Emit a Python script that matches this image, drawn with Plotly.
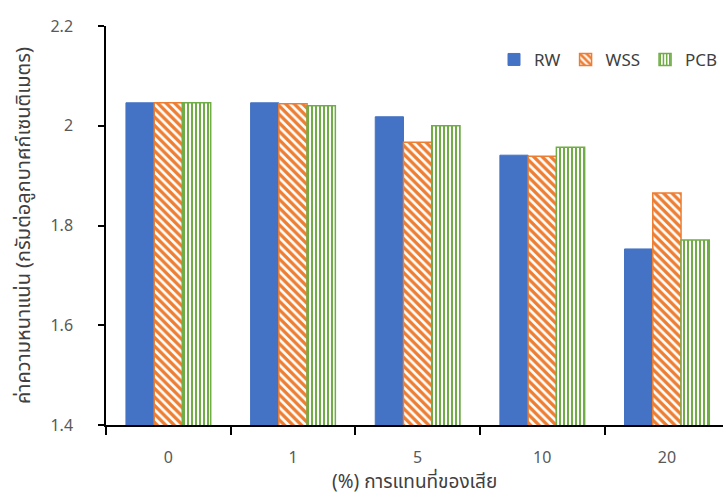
import plotly.graph_objects as go

# Replacement levels (%) and density values (g/cm^3)
categories = ["0", "1", "5", "10", "20"]
rw = [2.046, 2.046, 2.018, 1.941, 1.753]
wss = [2.046, 2.044, 1.967, 1.939, 1.865]
pcb = [2.046, 2.040, 2.000, 1.957, 1.771]

BLUE = "#4472C4"
ORANGE = "#ED7D31"
GREEN = "#70AD47"
FONT = "Tahoma, 'Noto Sans Thai', 'Leelawadee UI', 'Noto Sans', sans-serif"

fig = go.Figure()
fig.add_trace(go.Bar(
    name="RW", x=categories, y=rw,
    marker=dict(color=BLUE, line=dict(color=BLUE, width=1)),
))
fig.add_trace(go.Bar(
    name="WSS", x=categories, y=wss,
    marker=dict(color="white", line=dict(color=ORANGE, width=1.5),
                pattern=dict(shape="\\", fgcolor=ORANGE, bgcolor="white", fgopacity=1,
                             size=6, solidity=0.55, fillmode="overlay")),
))
fig.add_trace(go.Bar(
    name="PCB", x=categories, y=pcb,
    marker=dict(color="white", line=dict(color=GREEN, width=1.5),
                pattern=dict(shape="|", fgcolor=GREEN, bgcolor="white", fgopacity=1,
                             size=4, solidity=0.5, fillmode="overlay")),
))

# x-axis title placed as a centred annotation below the tick labels
fig.add_annotation(
    text="(%) การแทนที่ของเสีย", xref="paper", yref="paper",
    x=0.5, y=-0.143, xanchor="center", yanchor="middle", showarrow=False,
    font=dict(family=FONT, size=19, color="#404040"),
)

fig.update_layout(
    width=723, height=496,
    margin=dict(l=106, r=0, t=26, b=71),
    paper_bgcolor="white", plot_bgcolor="white",
    barmode="group", bargap=0.32, bargroupgap=0,
    font=dict(family=FONT, size=16, color="#595959"),
    showlegend=True,
    legend=dict(orientation="h", x=1.0, xanchor="right", y=0.915, yanchor="middle",
                font=dict(size=17, color="#404040"), bgcolor="rgba(0,0,0,0)",
                itemwidth=30, tracegroupgap=0),
    xaxis=dict(
        type="category", range=[-0.5, 4.45],
        showline=True, linecolor="black", linewidth=1.5,
        ticks="outside", tickson="boundaries", ticklen=8, tickcolor="black", tickwidth=1.5,
        ticklabelstandoff=17,
        tickfont=dict(size=16, color="#595959"),
        showgrid=False, zeroline=False,
    ),
    yaxis=dict(
        range=[1.4, 2.2], tickvals=[1.4, 1.6, 1.8, 2.0, 2.2],
        ticktext=["1.4", "1.6", "1.8", "2", "2.2"],
        showline=True, linecolor="black", linewidth=1.5,
        ticks="outside", ticklen=6, tickcolor="black", tickwidth=1.5,
        ticklabelstandoff=22,
        tickfont=dict(size=16, color="#595959"),
        showgrid=False, zeroline=False,
        title=dict(text="ค่าความหนาแน่น (กรัมต่อลูกบาศก์เซนติเมตร)",
                   font=dict(size=20, color="#404040"), standoff=14),
    ),
)

fig.write_html("out.html")
